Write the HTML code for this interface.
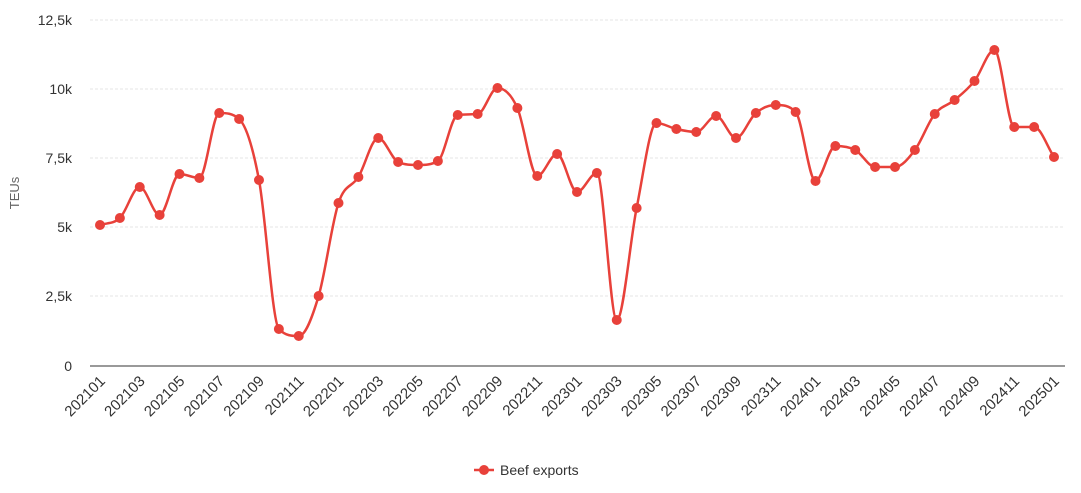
<!DOCTYPE html>
<html><head><meta charset="utf-8"><style>
body{margin:0;background:#fff;font-family:"Liberation Sans",sans-serif;}
svg text{font-family:"Liberation Sans",sans-serif;}
</style></head><body>
<svg id="s" width="1081" height="488" xmlns="http://www.w3.org/2000/svg">
<g stroke="#e6e6e6" stroke-dasharray="3,2" stroke-width="1">
<line x1="90" x2="1065" y1="20" y2="20"/><line x1="90" x2="1065" y1="89" y2="89"/>
<line x1="90" x2="1065" y1="158" y2="158"/><line x1="90" x2="1065" y1="227" y2="227"/>
<line x1="90" x2="1065" y1="296" y2="296"/>
</g>
<line x1="90" x2="1065" y1="366" y2="366" stroke="#333" stroke-width="1"/>
<g font-size="14" fill="#333" text-anchor="end">
<text x="72" y="25">12,5k</text><text x="72" y="94">10k</text><text x="72" y="163">7,5k</text>
<text x="72" y="232">5k</text><text x="72" y="301">2,5k</text><text x="72" y="371">0</text>
</g>
<text transform="translate(19,193) rotate(-90)" font-size="13" fill="#666" text-anchor="middle">TEUs</text>
<g id="xl" font-size="15" fill="#333" text-anchor="end"></g>
<path id="ln" fill="none" stroke="#e8413a" stroke-width="2.5"/>
<g id="pts" fill="#e8413a"></g>
<line x1="474" x2="494" y1="470" y2="470" stroke="#e8413a" stroke-width="2.5"/>
<circle cx="484" cy="470" r="5" fill="#e8413a"/>
<text x="500" y="475" font-size="14" fill="#333">Beef exports</text>
</svg>
<script>
var ys=[225,218,187,215,174,178,113,119,180,329,336,296,203,177,138,162,165,161,115,114,88,108,176,154,192,173,320,208,123,129,132,116,138,113,105,112,181,146,150,167,167,150,114,100,81,50,127,127,157];
var x0=100,st=(1054-100)/48,P=ys.map((y,i)=>[x0+i*st,y]),n=P.length;
var dl=[],m=[];for(var i=0;i<n-1;i++)dl.push((P[i+1][1]-P[i][1])/st);
for(var i=0;i<n;i++){if(i==0)m.push(dl[0]);else if(i==n-1)m.push(dl[n-2]);else{var a=dl[i-1],b=dl[i];m.push(a*b<=0?0:(a+b)/2);}}
for(var i=0;i<n-1;i++){if(dl[i]==0){m[i]=m[i+1]=0;continue;}var a=m[i]/dl[i],b=m[i+1]/dl[i],s=a*a+b*b;if(s>9){var t=3/Math.sqrt(s);m[i]=t*a*dl[i];m[i+1]=t*b*dl[i];}}
var d="M"+P[0][0]+","+P[0][1],h3=st/3;
for(var i=0;i<n-1;i++){d+=" C"+(P[i][0]+h3)+","+(P[i][1]+m[i]*h3)+" "+(P[i+1][0]-h3)+","+(P[i+1][1]-m[i+1]*h3)+" "+P[i+1][0]+","+P[i+1][1];}
document.getElementById("ln").setAttribute("d",d);
var g=document.getElementById("pts"),h="";P.forEach(p=>h+='<circle cx="'+p[0]+'" cy="'+p[1]+'" r="5"/>');g.innerHTML=h;
var xl="";for(var i=0;i<49;i+=2){var yr=2021+Math.floor(i/12),mo=i%12+1;var x=x0+i*st+6;
xl+='<text transform="translate('+x+',382) rotate(-45)">'+yr+(mo<10?"0":"")+mo+'</text>';}
document.getElementById("xl").innerHTML=xl;
</script>
</body></html>
